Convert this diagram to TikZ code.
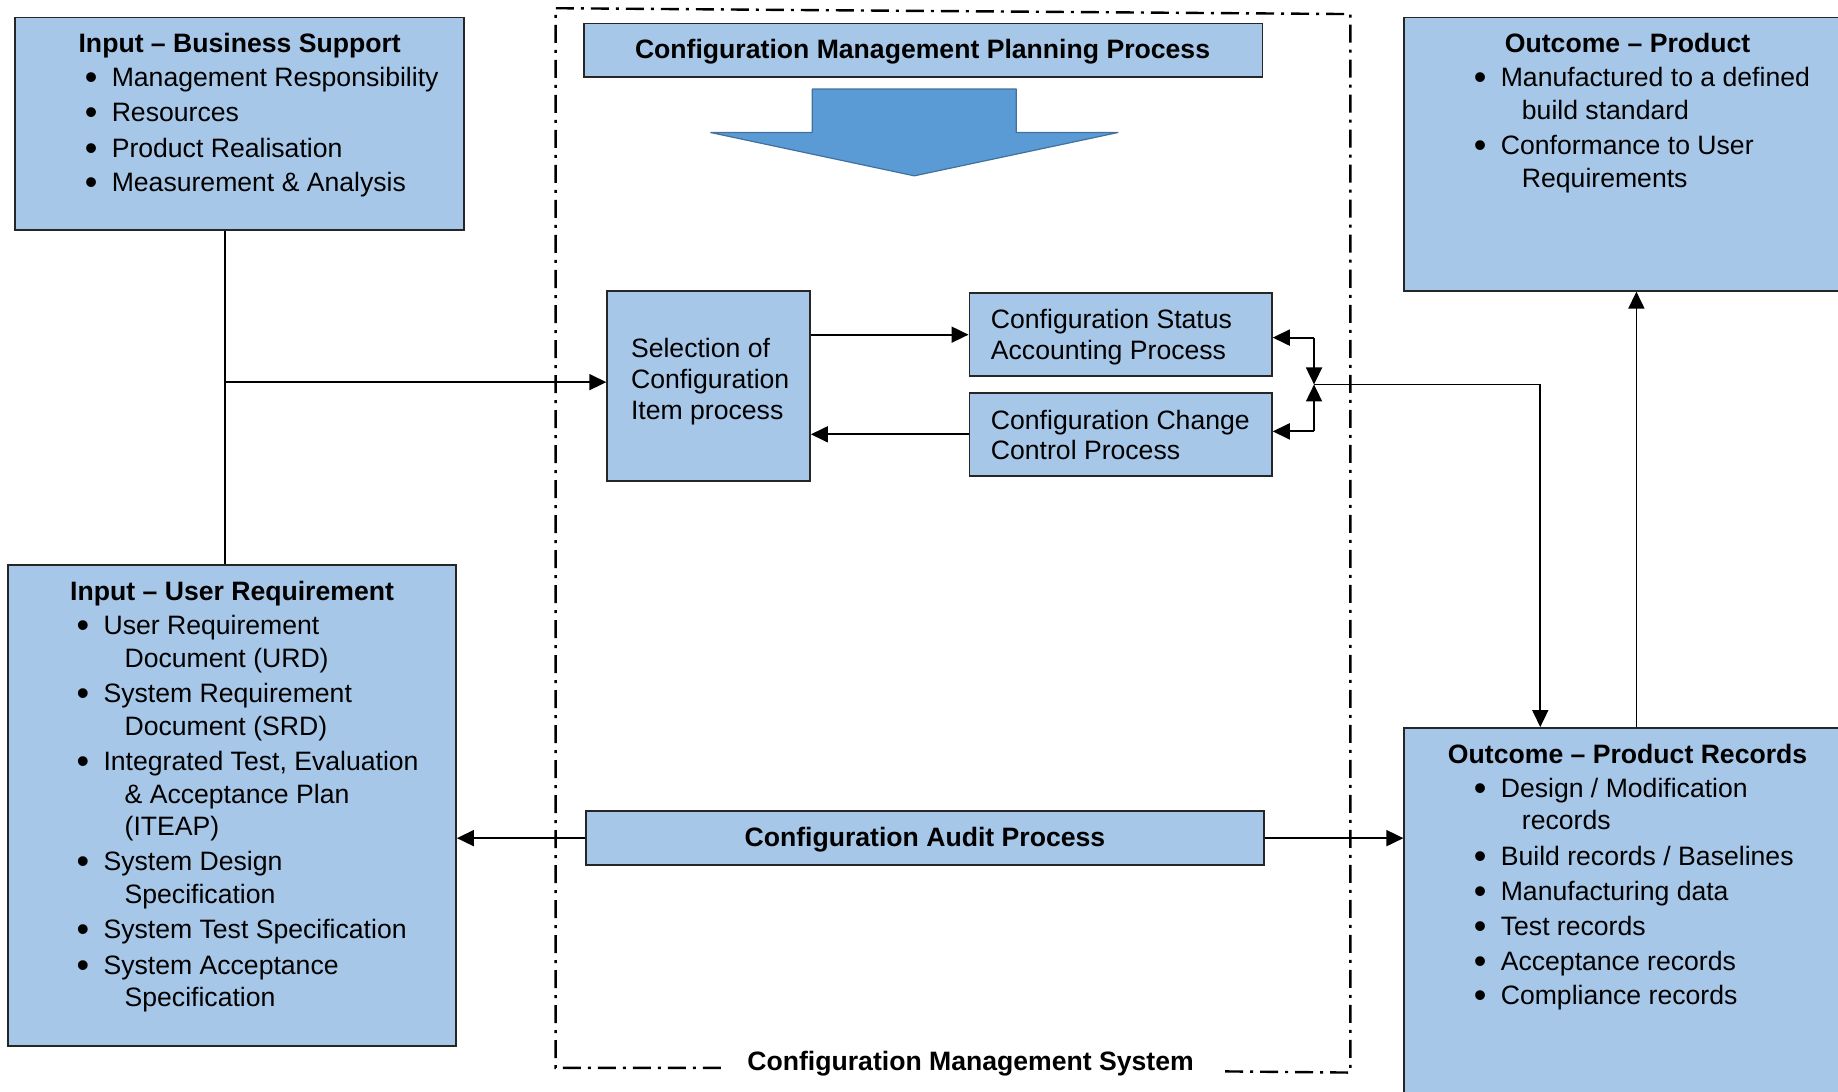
\documentclass[tikz,border=0pt]{standalone}
\usepackage{fontspec}
\setmainfont{Liberation Sans}
\usetikzlibrary{arrows.meta,fit}
\newlength\un \setlength\un{0.586pt}
\definecolor{boxfill}{RGB}{166,199,231}
\definecolor{arrfill}{RGB}{91,155,213}
\definecolor{arredge}{RGB}{65,113,156}
\newcommand\fs{\fontsize{13.3pt}{16pt}\selectfont}
\newcommand\bigbul{\makebox[22\un][l]{\hspace*{-0.6pt}\raisebox{-1.5pt}{\scalebox{1.35}{\textbullet}}}}
\newcommand\bitem[4]{\node[txt] (#1) at (#2,#3) {\bigbul#4};}
\newcommand\tline[4]{\node[txt] (#1) at (#2,#3) {#4};}
\newcommand\ttitle[4]{\node[ttl] (#1) at (#2,#3) {#4};}
\begin{document}
\begin{tikzpicture}[x=0.586pt,y=-0.586pt,
 box/.style={draw=black!85, line width=0.9pt, fill=boxfill, inner sep=0pt},
 txt/.style={anchor=base west, inner sep=0pt, font=\fs, yshift=-0.6pt},
 ttl/.style={anchor=base, inner sep=0pt, font=\fs\bfseries, yshift=-0.6pt},
 conn/.style={line width=0.9pt, black},
 arr/.style={conn, -{Triangle[length=8.5pt,width=8pt]}},
 frame/.style={line width=1.2pt, dash pattern=on 9pt off 3.5pt on 1.5pt off 3.5pt}]
\useasboundingbox (0,0) rectangle (1568,931);
\clip (0,0) rectangle (1568,931);

% frame of the Configuration Management System
\coordinate (ftl) at (474,7);
\coordinate (ftr) at (1152,12);
\coordinate (fbr) at (1152,915);
\coordinate (fbl) at (474,911);
\coordinate (fb1) at (615,911);
\coordinate (fb2) at (1045,914);
\draw[frame] (fb1) -- (fbl) -- (ftl) -- (ftr) -- (fbr) -- (fb2);
\node[ttl] (cms) at (828,912) {Configuration Management System};

% boxes
\node[box, fit={(13,15) (396,196)}] (bs) {};
\node[box, fit={(7,482) (389,892)}] (ur) {};
\node[box, fit={(1198,15) (1600,248)}] (op) {};
\node[box, fit={(1198,621) (1600,1000)}] (pr) {};
\node[box, fit={(498,20) (1077,66)}] (plan) {};
\node[box, fit={(518,248) (691,410)}] (sel) {};
\node[box, fit={(827,250) (1085,321)}] (stat) {};
\node[box, fit={(827,335) (1085,406)}] (chg) {};
\node[box, fit={(500,692) (1078,738)}] (aud) {};

% block arrow
\draw[fill=arrfill, draw=arredge, line width=0.6pt, line join=bevel]
  (693,76) -- (867,76) -- (867,113) -- (954,113) -- (780,150) -- (606,113) -- (693,113) -- cycle;

% texts
\ttitle{plant}{787}{49}{Configuration Management Planning Process}
\ttitle{audt}{789}{721}{Configuration Audit Process}

\ttitle{bst}{204.5}{44}{Input \textendash{} Business Support}
\bitem{bs1}{73}{73}{Management Responsibility}
\bitem{bs2}{73}{103}{Resources}
\bitem{bs3}{73}{133}{Product Realisation}
\bitem{bs4}{73}{162}{Measurement \& Analysis}

\ttitle{urt}{198}{511}{Input \textendash{} User Requirement}
\bitem{ur1}{66}{540}{User Requirement}
\tline{ur2}{106}{568}{Document (URD)}
\bitem{ur3}{66}{598}{System Requirement}
\tline{ur4}{106}{626}{Document (SRD)}
\bitem{ur5}{66}{656}{Integrated Test, Evaluation}
\tline{ur6}{106}{684}{\& Acceptance Plan}
\tline{ur7}{106}{712}{(ITEAP)}
\bitem{ur8}{66}{742}{System Design}
\tline{ur9}{106}{770}{Specification}
\bitem{ur10}{66}{800}{System Test Specification}
\bitem{ur11}{66}{830}{System Acceptance}
\tline{ur12}{106}{858}{Specification}

\ttitle{opt}{1388.5}{44}{Outcome \textendash{} Product}
\bitem{op1}{1258}{73}{Manufactured to a defined}
\tline{op2}{1298}{101}{build standard}
\bitem{op3}{1258}{131}{Conformance to User}
\tline{op4}{1298}{159}{Requirements}

\ttitle{prt}{1388.5}{650}{Outcome \textendash{} Product Records}
\bitem{pr1}{1258}{679}{Design / Modification}
\tline{pr2}{1298}{707}{records}
\bitem{pr3}{1258}{737}{Build records / Baselines}
\bitem{pr4}{1258}{767}{Manufacturing data}
\bitem{pr5}{1258}{797}{Test records}
\bitem{pr6}{1258}{827}{Acceptance records}
\bitem{pr7}{1258}{856}{Compliance records}

\tline{sel1}{538}{304}{Selection of}
\tline{sel2}{538}{330}{Configuration}
\tline{sel3}{538}{357}{Item process}
\tline{st1}{845}{279}{Configuration Status}
\tline{st2}{845}{306}{Accounting Process}
\tline{ch1}{845}{365}{Configuration Change}
\tline{ch2}{845}{391}{Control Process}

% connectors
\coordinate (c1) at (192,326);
\draw[conn] (c1 |- bs.south) -- (c1 |- ur.north);
\draw[arr] (c1) -- (c1 -| sel.west);
\draw[arr] (sel.east |- stat.west) -- (stat.west);
\draw[arr] (chg.west) -- (chg.west -| sel.east);

\coordinate (j) at (1121,328);
\coordinate (a1) at (1121,288);
\coordinate (a2) at (1121,368);
\draw[arr] (a1) -- (a1 -| stat.east);
\draw[arr] (a1) -- (j);
\draw[arr] (a2) -- (a2 -| chg.east);
\draw[arr] (a2) -- (j);
\coordinate (k) at (1314,328);
\draw[arr] (j) -- (k) -- (k |- pr.north);
\coordinate (m) at (1396,400);
\draw[arr] (m |- pr.north) -- (m |- op.south);

\draw[arr] (aud.west) -- (aud.west -| ur.east);
\draw[arr] (aud.east) -- (aud.east -| pr.west);
\end{tikzpicture}
\end{document}
